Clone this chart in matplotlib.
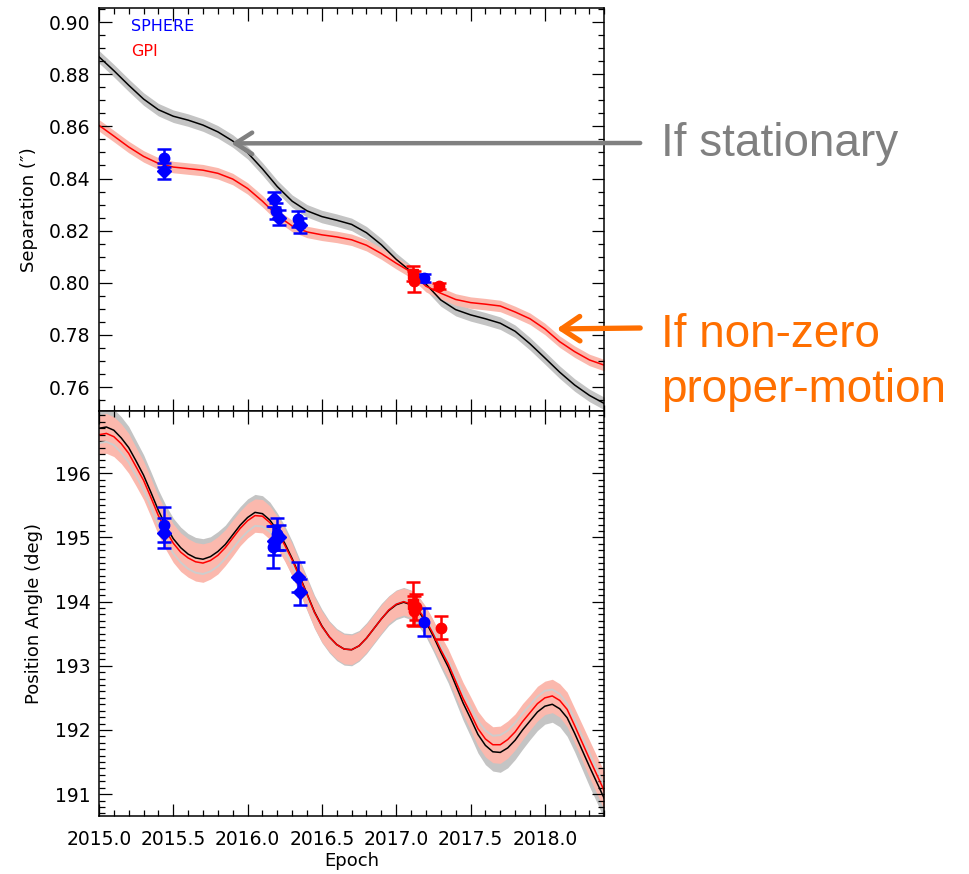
import numpy as np
import matplotlib.pyplot as plt
from matplotlib.ticker import MultipleLocator

# --- separation panel: model curves ---
ep_sep = [2015.0, 2015.1, 2015.2, 2015.3, 2015.4, 2015.5, 2015.6, 2015.7, 2015.8,
          2015.9, 2016.0, 2016.1, 2016.2, 2016.3, 2016.4, 2016.5, 2016.6, 2016.7,
          2016.8, 2016.9, 2017.0, 2017.1, 2017.2, 2017.3, 2017.4, 2017.5, 2017.6,
          2017.7, 2017.8, 2017.9, 2018.0, 2018.1, 2018.2, 2018.3, 2018.4]
sep_still = [0.8867, 0.8814, 0.8758, 0.8705, 0.8664, 0.8639, 0.8624, 0.8605, 0.8579,
             0.8544, 0.8499, 0.8437, 0.8369, 0.8313, 0.8276, 0.8254, 0.8240, 0.8224,
             0.8192, 0.8146, 0.8090, 0.8043, 0.7995, 0.7934, 0.7897, 0.7877, 0.7862,
             0.7845, 0.7814, 0.7766, 0.7712, 0.7657, 0.7608, 0.7568, 0.7537]
sep_pm = [0.8604, 0.8563, 0.8521, 0.8485, 0.8458, 0.8444, 0.8438, 0.8432, 0.8420,
          0.8398, 0.8362, 0.8313, 0.8258, 0.8218, 0.8195, 0.8184, 0.8176, 0.8165,
          0.8144, 0.8112, 0.8075, 0.8041, 0.7987, 0.7960, 0.7936, 0.7924, 0.7918,
          0.7911, 0.7888, 0.7862, 0.7823, 0.7774, 0.7736, 0.7704, 0.7684]
sep_sig_still = 0.0024
sep_sig_pm = 0.0022

# --- position angle panel: model curves ---
ep_pa = [2015.00, 2015.05, 2015.10, 2015.15, 2015.20, 2015.25, 2015.30, 2015.35,
         2015.40, 2015.45, 2015.50, 2015.55, 2015.60, 2015.65, 2015.70, 2015.75,
         2015.80, 2015.85, 2015.90, 2015.95, 2016.00, 2016.05, 2016.10, 2016.15,
         2016.20, 2016.25, 2016.30, 2016.35, 2016.40, 2016.45, 2016.50, 2016.55,
         2016.60, 2016.65, 2016.70, 2016.75, 2016.80, 2016.85, 2016.90, 2016.95,
         2017.00, 2017.05, 2017.10, 2017.15, 2017.20, 2017.25, 2017.30, 2017.35,
         2017.40, 2017.45, 2017.50, 2017.55, 2017.60, 2017.65, 2017.70, 2017.75,
         2017.80, 2017.85, 2017.90, 2017.95, 2018.00, 2018.05, 2018.10, 2018.15,
         2018.20, 2018.25, 2018.30, 2018.35, 2018.40]
pa_still = [196.70, 196.72, 196.67, 196.55, 196.40, 196.19, 195.97, 195.70,
            195.42, 195.18, 194.98, 194.84, 194.74, 194.68, 194.66, 194.70,
            194.78, 194.89, 195.04, 195.19, 195.31, 195.39, 195.37, 195.27,
            195.11, 194.91, 194.67, 194.40, 194.12, 193.84, 193.62, 193.45,
            193.33, 193.26, 193.25, 193.31, 193.43, 193.58, 193.73, 193.86,
            193.95, 193.99, 193.95, 193.85, 193.68, 193.46, 193.21, 192.98,
            192.70, 192.42, 192.18, 191.93, 191.76, 191.66, 191.65, 191.72,
            191.84, 192.00, 192.14, 192.28, 192.37, 192.40, 192.33, 192.19,
            191.95, 191.69, 191.43, 191.18, 190.93]
pa_pm = [196.60, 196.62, 196.57, 196.46, 196.31, 196.10, 195.89, 195.62,
         195.34, 195.11, 194.91, 194.77, 194.68, 194.62, 194.60, 194.64,
         194.72, 194.84, 194.99, 195.14, 195.26, 195.34, 195.33, 195.23,
         195.08, 194.88, 194.65, 194.38, 194.11, 193.83, 193.61, 193.45,
         193.33, 193.26, 193.25, 193.31, 193.43, 193.58, 193.73, 193.87,
         193.96, 194.00, 193.96, 193.87, 193.71, 193.49, 193.25, 193.03,
         192.76, 192.49, 192.26, 192.02, 191.86, 191.77, 191.77, 191.85,
         191.97, 192.13, 192.27, 192.41, 192.50, 192.53, 192.46, 192.32,
         192.07, 191.81, 191.55, 191.30, 191.05]
pa_alt = [196.47, 196.49, 196.44, 196.32, 196.17, 195.96, 195.74, 195.47,
          195.19, 194.95, 194.75, 194.61, 194.51, 194.45, 194.43, 194.47,
          194.55, 194.67, 194.82, 194.97, 195.09, 195.18, 195.17, 195.09,
          194.95, 194.78, 194.57, 194.32, 194.07, 193.81, 193.60, 193.44,
          193.33, 193.26, 193.25, 193.31, 193.43, 193.58, 193.74, 193.87,
          193.97, 194.01, 193.98, 193.89, 193.74, 193.53, 193.30, 193.09,
          192.83, 192.58, 192.36, 192.14, 191.99, 191.91, 191.92, 191.99,
          192.11, 192.26, 192.39, 192.52, 192.61, 192.63, 192.56, 192.41,
          192.17, 191.90, 191.64, 191.38, 191.13]
pa_sig = [0.31, 0.31, 0.31, 0.31, 0.31, 0.30, 0.30, 0.30,
          0.30, 0.30, 0.30, 0.30, 0.30, 0.30, 0.30, 0.29,
          0.29, 0.28, 0.28, 0.27, 0.27, 0.26, 0.26, 0.26,
          0.25, 0.25, 0.25, 0.24, 0.24, 0.24, 0.24, 0.23,
          0.23, 0.23, 0.23, 0.22, 0.22, 0.22, 0.22, 0.21,
          0.21, 0.21, 0.21, 0.21, 0.21, 0.22, 0.22, 0.23,
          0.24, 0.25, 0.26, 0.27, 0.28, 0.28, 0.29, 0.29,
          0.28, 0.28, 0.27, 0.27, 0.26, 0.26, 0.26, 0.27,
          0.27, 0.28, 0.29, 0.29, 0.30]

# --- measurements ---
sph_ep = [2015.44, 2015.44, 2016.18, 2016.19, 2016.21, 2016.34, 2016.35, 2017.19]
sph_sep = [0.8480, 0.8430, 0.8320, 0.8275, 0.8250, 0.8245, 0.8220, 0.8019]
sph_sep_err = [0.0035, 0.0030, 0.0030, 0.0030, 0.0030, 0.0030, 0.0030, 0.0015]
sph_mk = ['o', 'D', 'D', 'o', 'D', 'o', 'D', 'o']

sph_pa_ep = [2015.44, 2015.44, 2016.17, 2016.18, 2016.20, 2016.21, 2016.34, 2016.35, 2017.19]
sph_pa = [195.20, 195.07, 194.85, 194.95, 195.05, 195.00, 194.38, 194.15, 193.68]
sph_pa_err = [0.27, 0.24, 0.32, 0.22, 0.25, 0.20, 0.23, 0.20, 0.22]
sph_pa_mk = ['o', 'D', 'o', 'D', 'o', 'D', 'D', 'D', 'o']

gpi_ep = [2017.11, 2017.12, 2017.29]
gpi_sep = [0.8035, 0.8005, 0.7988]
gpi_sep_err = [0.0030, 0.0040, 0.0012]
gpi_pa_ep = [2017.11, 2017.12, 2017.13, 2017.30]
gpi_pa = [193.97, 193.85, 193.92, 193.59]
gpi_pa_err = [0.33, 0.23, 0.20, 0.18]
gpi_mk = ['s', 'o', 'o', 'o']

xticks = [2015.0, 2015.5, 2016.0, 2016.5, 2017.0, 2017.5, 2018.0]

GRAY_BAND = '#c4c4c4'
RED_BAND = '#fbb8ad'
ORANGE = '#ff6f00'
GRAYTXT = '#808080'

plt.rcParams['font.family'] = ['DejaVu Sans']

fig = plt.figure(figsize=(9.7, 8.74), dpi=100)
ax1 = fig.add_axes([0.102, 0.5297, 0.521, 0.4611])
ax2 = fig.add_axes([0.102, 0.0664, 0.521, 0.4634])

ebkw = dict(ms=7.5, elinewidth=1.8, capsize=5, capthick=1.8, zorder=5)

# separation
s_still = np.array(sep_still)
s_pm = np.array(sep_pm)
ax1.fill_between(ep_sep, s_still - sep_sig_still, s_still + sep_sig_still, color=GRAY_BAND, lw=0)
ax1.fill_between(ep_sep, s_pm - sep_sig_pm, s_pm + sep_sig_pm, color=RED_BAND, lw=0)
ax1.plot(ep_sep, sep_still, color='black', lw=1.1)
ax1.plot(ep_sep, sep_pm, color='red', lw=1.1)

for x, y, e, m in zip(sph_ep, sph_sep, sph_sep_err, sph_mk):
    ax1.errorbar(x, y, yerr=e, fmt=m, color='blue', **ebkw)
for x, y, e, m in zip(gpi_ep, gpi_sep, gpi_sep_err, gpi_mk):
    ax1.errorbar(x, y, yerr=e, fmt=m, color='red', **ebkw)

ax1.set_xlim(2015.0, 2018.4)
ax1.set_ylim(0.7508, 0.9054)
ax1.set_yticks([0.76, 0.78, 0.80, 0.82, 0.84, 0.86, 0.88, 0.90])
ax1.set_yticklabels(['0.76', '0.78', '0.80', '0.82', '0.84', '0.86', '0.88', '0.90'])
ax1.yaxis.set_minor_locator(MultipleLocator(0.005))
ax1.set_ylabel('Separation (″)', fontsize=13)
ax1.yaxis.set_label_coords(-0.12, 0.5)
ax1.text(0.063, 0.953, 'SPHERE', color='blue', fontsize=11.5, transform=ax1.transAxes, va='center')
ax1.text(0.063, 0.891, 'GPI', color='red', fontsize=11.5, transform=ax1.transAxes, va='center')

# position angle
p_still = np.array(pa_still)
p_pm = np.array(pa_pm)
sig = np.array(pa_sig)
ax2.fill_between(ep_pa, p_still - sig - 0.02, p_still + sig + 0.02, color=GRAY_BAND, lw=0)
ax2.fill_between(ep_pa, p_pm - sig, p_pm + sig, color=RED_BAND, lw=0)
ax2.plot(ep_pa, pa_alt, color='#cdcdcd', lw=1.4)
ax2.plot(ep_pa, pa_still, color='black', lw=1.1)
ax2.plot(ep_pa, pa_pm, color='red', lw=1.1)

for x, y, e, m in zip(sph_pa_ep, sph_pa, sph_pa_err, sph_pa_mk):
    ax2.errorbar(x, y, yerr=e, fmt=m, color='blue', **ebkw)
for x, y, e, m in zip(gpi_pa_ep, gpi_pa, gpi_pa_err, gpi_mk):
    ax2.errorbar(x, y, yerr=e, fmt=m, color='red', **ebkw)

ax2.set_xlim(2015.0, 2018.4)
ax2.set_ylim(190.66, 196.97)
ax2.yaxis.set_major_locator(MultipleLocator(1))
ax2.yaxis.set_minor_locator(MultipleLocator(0.1))
ax2.set_ylabel('Position Angle (deg)', fontsize=13)
ax2.yaxis.set_label_coords(-0.111, 0.5)
ax2.set_xlabel('Epoch', fontsize=13)
ax2.xaxis.set_label_coords(0.5, -0.088)

for ax in (ax1, ax2):
    ax.set_xticks(xticks)
    ax.xaxis.set_minor_locator(MultipleLocator(0.1))
    ax.tick_params(which='both', direction='in', top=True, right=True, width=0.9)
    ax.tick_params(which='major', length=9, labelsize=13.5, pad=6)
    ax.tick_params(which='minor', length=4.5)
    for sp in ax.spines.values():
        sp.set_linewidth(1.1)
ax1.tick_params(axis='x', labelbottom=False)
ax2.set_xticklabels([f'{t:.1f}' for t in xticks])
ax2.tick_params(axis='x', pad=10)

# annotations
ax1.annotate('', xy=(2015.89, 0.8535), xycoords='data',
             xytext=(0.66, 1 - 143 / 874), textcoords='figure fraction',
             arrowprops=dict(arrowstyle='->,head_length=0.55,head_width=0.35',
                             color=GRAYTXT, lw=3.2, mutation_scale=22,
                             shrinkA=0, shrinkB=0),
             annotation_clip=False)
ax1.annotate('', xy=(2018.08, 0.7823), xycoords='data',
             xytext=(0.66, 1 - 328 / 874), textcoords='figure fraction',
             arrowprops=dict(arrowstyle='->,head_length=0.6,head_width=0.4',
                             color=ORANGE, lw=3.8, mutation_scale=22,
                             shrinkA=0, shrinkB=0),
             annotation_clip=False)
fig.text(661 / 970, 1 - 156 / 874, 'If stationary', color=GRAYTXT, fontsize=33,
         family='Liberation Sans', va='baseline')
fig.text(661 / 970, 1 - 347 / 874, 'If non-zero', color=ORANGE, fontsize=33,
         family='Liberation Sans', va='baseline')
fig.text(661 / 970, 1 - 402 / 874, 'proper-motion', color=ORANGE, fontsize=33,
         family='Liberation Sans', va='baseline')

fig.savefig('out.png', dpi=100, facecolor='white')
